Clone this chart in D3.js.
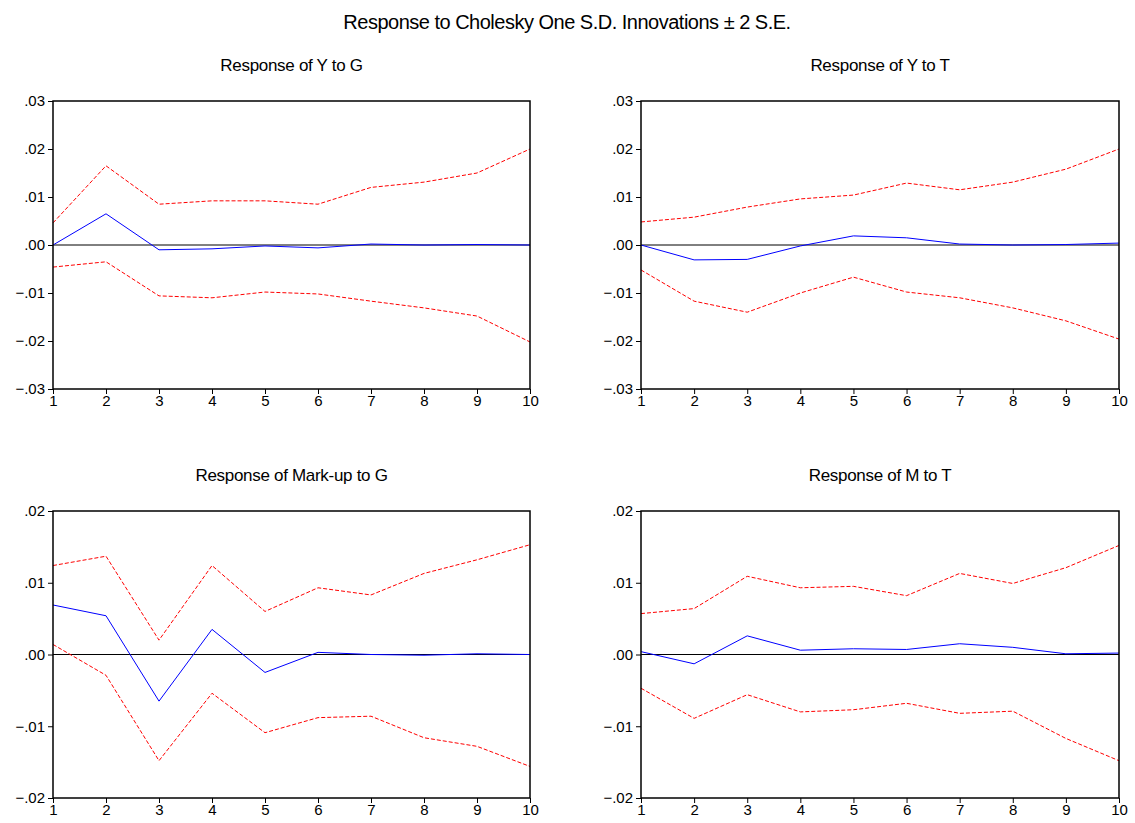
<!DOCTYPE html>
<html><head><meta charset="utf-8">
<script src="https://cdn.jsdelivr.net/npm/d3@7"></script>
<style>body{margin:0;background:#fff}text{font-family:"Liberation Sans",Arial,sans-serif}</style>
</head><body>
<svg id="canvas" width="1135" height="823"></svg>
<script>
let periods = [1,2,3,4,5,6,7,8,9,10];

let titles = ['Response of Y to G','Response of Y to T','Response of Mark-up to G','Response of M to T'];

let respYG = [0,.0065,-.001,-.0008,-.0002,-.0006,.0002,0,.0001,0];
let upYG = [.0046,.0165,.0085,.0092,.0092,.0085,.012,.0131,.015,.02];
let loYG = [-.0046,-.0035,-.0106,-.011,-.0098,-.0102,-.0117,-.0131,-.0148,-.0202];

let respYT = [0,-.0031,-.003,-.0002,.0019,.0015,.0002,0,.0001,.0004];
let upYT = [.0048,.0058,.0079,.0096,.0104,.0129,.0115,.0131,.0158,.02];
let loYT = [-.0052,-.0117,-.014,-.01,-.0067,-.0098,-.011,-.0131,-.0158,-.0196];

let respMG = [.0069,.0054,-.0065,.0035,-.0025,.0003,0,-.0001,.0001,0];
let upMG = [.0124,.0137,.002,.0124,.006,.0093,.0083,.0113,.0132,.0153];
let loMG = [.0014,-.0029,-.0148,-.0054,-.0109,-.0088,-.0086,-.0116,-.0128,-.0156];

let respMT = [.0004,-.0013,.0026,.0006,.0008,.0007,.0015,.001,.0001,.0002];
let upMT = [.0057,.0064,.0109,.0093,.0095,.0082,.0113,.0099,.0121,.0152];
let loMT = [-.0047,-.0089,-.0056,-.008,-.0077,-.0068,-.0082,-.0079,-.0117,-.0148];

let ticksTop = [-.03,-.02,-.01,0,.01,.02,.03];
let ticksBottom = [-.02,-.01,0,.01,.02];

let fmt = v => v === 0 ? '.00' : d3.format('.2f')(v).replace('0.', '.');

let canvas = d3.select('#canvas');

canvas.append('text').attr('x', 567).attr('y', 29).attr('text-anchor', 'middle')
  .attr('font-size', 20).attr('letter-spacing', -0.5).text('Response to Cholesky One S.D. Innovations \u00b1 2 S.E.');

let panels = [
  {x0: 53, x1: 530, y0: 101, y1: 389, ticks: ticksTop, resp: respYG, up: upYG, lo: loYG},
  {x0: 641, x1: 1119, y0: 101, y1: 389, ticks: ticksTop, resp: respYT, up: upYT, lo: loYT},
  {x0: 53, x1: 530, y0: 511, y1: 798, ticks: ticksBottom, resp: respMG, up: upMG, lo: loMG},
  {x0: 641, x1: 1119, y0: 511, y1: 798, ticks: ticksBottom, resp: respMT, up: upMT, lo: loMT}
];

panels.forEach((p, i) => {
  let x = d3.scaleLinear().domain([1, 10]).range([p.x0, p.x1]);
  let y = d3.scaleLinear().domain([p.ticks[0], p.ticks[p.ticks.length - 1]]).range([p.y1, p.y0]);
  let g = canvas.append('g');

  g.append('text').attr('x', (p.x0 + p.x1) / 2).attr('y', p.y0 - 30).attr('text-anchor', 'middle')
    .attr('font-size', 17).attr('letter-spacing', -0.3).text(titles[i]);

  let ya = g.append('g').attr('transform', `translate(${p.x0},0)`)
    .call(d3.axisLeft(y).tickValues(p.ticks).tickFormat(fmt).tickSize(5).tickPadding(3));
  let xa = g.append('g').attr('transform', `translate(0,${p.y1})`)
    .call(d3.axisBottom(x).tickValues(periods).tickSize(5).tickPadding(1));
  [ya, xa].forEach(a => {
    a.attr('font-size', 15).attr('font-family', '"Liberation Sans",Arial,sans-serif');
    a.select('.domain').remove();
    a.selectAll('text').attr('fill', '#000');
    a.selectAll('line').attr('stroke', '#000');
  });

  g.append('line').attr('x1', p.x0).attr('x2', p.x1).attr('y1', y(0)).attr('y2', y(0))
    .attr('stroke', '#000').attr('stroke-width', 1);

  let line = d3.line().x((d, j) => x(periods[j])).y(d => y(d));
  g.append('path').attr('d', line(p.up)).attr('fill', 'none').attr('stroke', '#ff0000').attr('stroke-dasharray', '4,2');
  g.append('path').attr('d', line(p.lo)).attr('fill', 'none').attr('stroke', '#ff0000').attr('stroke-dasharray', '4,2');
  g.append('path').attr('d', line(p.resp)).attr('fill', 'none').attr('stroke', '#0000ff');

  g.append('rect').attr('x', p.x0).attr('y', p.y0).attr('width', p.x1 - p.x0).attr('height', p.y1 - p.y0)
    .attr('fill', 'none').attr('stroke', '#000').attr('stroke-width', 1.5);
});
</script>
</body></html>
